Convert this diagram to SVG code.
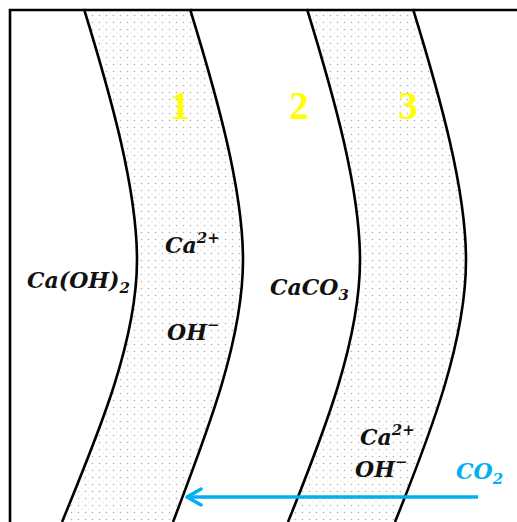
<svg xmlns="http://www.w3.org/2000/svg" width="517" height="522" viewBox="0 0 517 522">
<style>
.curve{fill:none;stroke:#000;stroke-width:2.6}
.band{fill:url(#dots);stroke:none}
.lbl{font-family:"DejaVu Serif",serif;font-weight:bold;font-style:italic;font-size:22px;fill:#111}
.num{font-family:"Liberation Serif",serif;font-weight:bold;font-size:39px;fill:#FFFF00;text-anchor:middle}
.blue{fill:#00B0F0}
.conn{stroke:#00B0F0;stroke-width:3.5;fill:none}
</style>
<defs>
<pattern id="dots" width="7" height="7" patternUnits="userSpaceOnUse">
<rect width="7" height="7" fill="#fff"/>
<circle cx="1.5" cy="1.5" r="0.8" fill="#b0b0b0"/>
<circle cx="5" cy="5" r="0.6" fill="#d0d0d0"/>
</pattern>
<marker id="arr" viewBox="0 0 20 20" refX="17" refY="10" markerWidth="20" markerHeight="20" markerUnits="userSpaceOnUse" orient="auto">
<polyline points="3,2 17,10 3,18" fill="none" stroke="#00B0F0" stroke-width="3.5" stroke-linecap="round" stroke-linejoin="round"/>
</marker>
</defs>
<rect width="517" height="522" fill="#fff"/>
<g id="band1">
<path class="band" d="M84,9 C112,100 137,190 137,260 C137,340 100,430 62,522 L173,522 C208,430 243,340 243,260 C243,190 218,100 190,9 Z"/>
<path class="curve" d="M84,9 C112,100 137,190 137,260 C137,340 100,430 62,522"/>
<path class="curve" d="M190,9 C218,100 243,190 243,260 C243,340 208,430 173,522"/>
</g>
<g id="band3">
<path class="band" d="M307,9 C335,100 360,190 360,260 C360,340 325,430 288,522 L395,522 C432,430 466,340 466,260 C466,190 441,100 413,9 Z"/>
<path class="curve" d="M307,9 C335,100 360,190 360,260 C360,340 325,430 288,522"/>
<path class="curve" d="M413,9 C441,100 466,190 466,260 C466,340 432,430 395,522"/>
</g>
<g id="frame">
<path d="M10,522 L10,10 L517,10" fill="none" stroke="#000" stroke-width="2.6"/>
</g>
<g id="labels">
<text class="num" x="180" y="119">1</text>
<text class="num" x="299" y="119">2</text>
<text class="num" x="408" y="119">3</text>
<text class="lbl" x="27" y="288">Ca(OH)<tspan font-size="15" dy="5">2</tspan></text>
<text class="lbl" x="165" y="253">Ca<tspan font-size="15" dy="-10">2+</tspan></text>
<text class="lbl" x="167" y="340">OH<tspan font-size="15" dy="-10">−</tspan></text>
<text class="lbl" x="270" y="295">CaCO<tspan font-size="15" dy="5">3</tspan></text>
<text class="lbl" x="360" y="445">Ca<tspan font-size="15" dy="-10">2+</tspan></text>
<text class="lbl" x="355" y="477">OH<tspan font-size="15" dy="-10">−</tspan></text>
<text class="lbl blue" x="456" y="479">CO<tspan font-size="15" dy="5">2</tspan></text>
</g>
<g id="connectors">
<line class="conn" x1="478" y1="497" x2="187" y2="497" marker-end="url(#arr)"/>
</g>
</svg>
